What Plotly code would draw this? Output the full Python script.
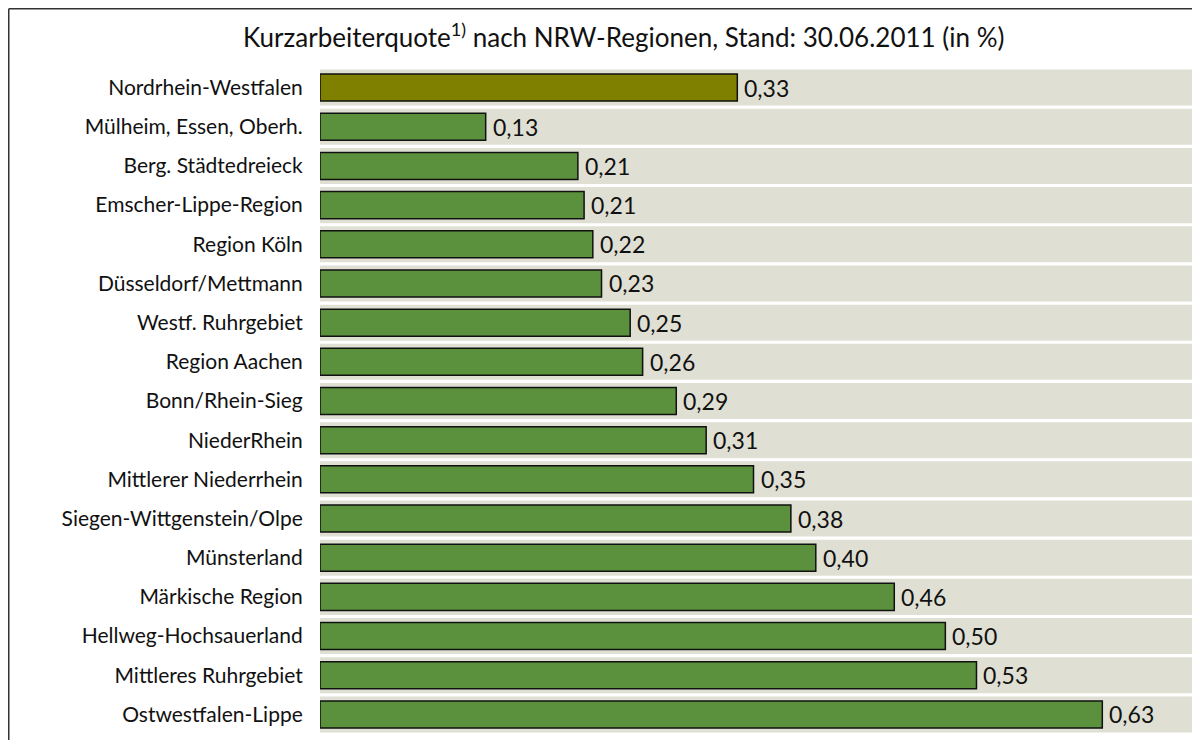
import plotly.graph_objects as go

regions = [
    "Nordrhein-Westfalen", "Mülheim, Essen, Oberh.", "Berg. Städtedreieck",
    "Emscher-Lippe-Region", "Region Köln", "Düsseldorf/Mettmann",
    "Westf. Ruhrgebiet", "Region Aachen", "Bonn/Rhein-Sieg", "NiederRhein",
    "Mittlerer Niederrhein", "Siegen-Wittgenstein/Olpe", "Münsterland",
    "Märkische Region", "Hellweg-Hochsauerland", "Mittleres Ruhrgebiet",
    "Ostwestfalen-Lippe",
]
# bar lengths (in %)
values = [0.335, 0.133, 0.207, 0.212, 0.219, 0.226, 0.249, 0.259, 0.286,
          0.310, 0.348, 0.378, 0.398, 0.461, 0.502, 0.527, 0.628]
# printed value labels
value_labels = ["0,33", "0,13", "0,21", "0,21", "0,22", "0,23", "0,25", "0,26",
                "0,29", "0,31", "0,35", "0,38", "0,40", "0,46", "0,50", "0,53",
                "0,63"]
axis_max = 0.70

FONT = "Lato"
bar_colors = ["#7f7f00"] + ["#5b913d"] * (len(regions) - 1)

fig = go.Figure()
fig.add_trace(go.Bar(
    y=regions, x=[axis_max] * len(regions), orientation="h",
    width=0.92, marker=dict(color="#dfe0d3", line=dict(width=0)),
    hoverinfo="skip", showlegend=False,
))
fig.add_trace(go.Bar(
    y=regions, x=values, orientation="h", width=0.69,
    marker=dict(color=bar_colors, line=dict(color="#111111", width=1.5)),
    showlegend=False,
))

for r, v, t in zip(regions, values, value_labels):
    fig.add_annotation(x=v, y=r, xref="x", yref="y", text=t, showarrow=False,
                       xanchor="left", yanchor="middle", xshift=5,
                       font=dict(family=FONT, size=23, color="#111111"))

# page is shown with an 8px body margin, so figure coords = page coords - 8
L, R, T, B = 312, 16, 60, 14
W, H = 1200, 740
pw, ph = W - L - R, H - T - B
def px2x(px):
    return (px - L) / pw
def py2y(py):
    return (H - B - py) / ph

fig.add_annotation(
    x=px2x(615), y=py2y(28), xref="paper", yref="paper",
    text="Kurzarbeiterquote<sup>1)</sup> nach NRW-Regionen, Stand: 30.06.2011 (in %)",
    showarrow=False, xanchor="center", yanchor="middle",
    font=dict(family=FONT, size=26, color="#111111"),
)

# frame lines
fig.add_shape(type="line", xref="paper", yref="paper",
              x0=px2x(0.75), x1=px2x(0.75), y0=py2y(745), y1=py2y(0.75),
              line=dict(color="#333333", width=1.5))
fig.add_shape(type="line", xref="paper", yref="paper",
              x0=px2x(0.75), x1=px2x(1205), y0=py2y(0.75), y1=py2y(0.75),
              line=dict(color="#333333", width=1.5))

fig.update_layout(
    width=W, height=H, barmode="overlay",
    margin=dict(l=L, r=R, t=T, b=B),
    paper_bgcolor="white", plot_bgcolor="white",
    xaxis=dict(range=[0, axis_max], visible=False, fixedrange=True),
    yaxis=dict(autorange=False, range=[len(regions) - 0.5, -0.5],
               showgrid=False, zeroline=False, showline=False,
               ticks="outside", ticklen=12, tickcolor="rgba(0,0,0,0)",
               tickfont=dict(family=FONT, size=21, color="#111111")),
    font=dict(family=FONT),
)

fig.write_html("out.html")
